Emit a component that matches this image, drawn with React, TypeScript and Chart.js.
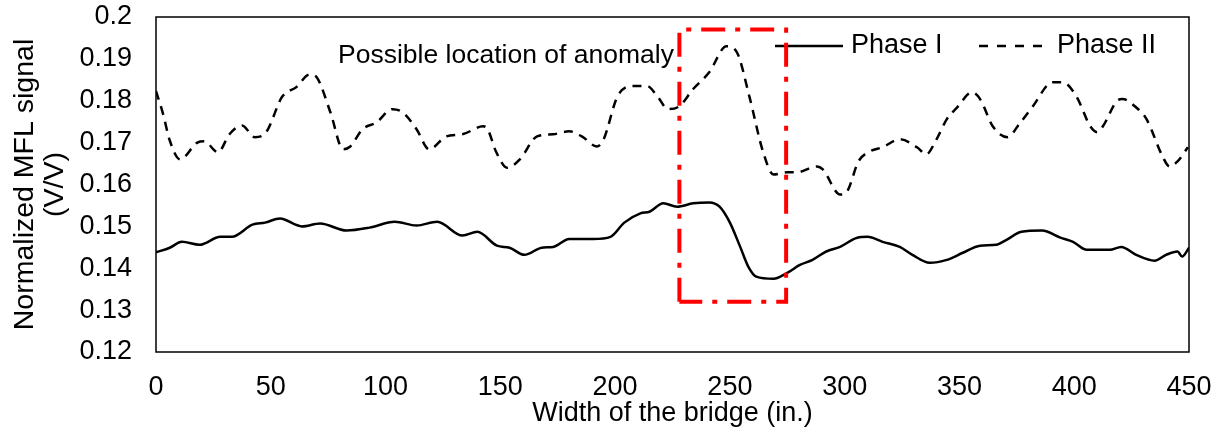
import React, { useEffect, useRef } from "react";
import { Chart, registerables } from "chart.js";

Chart.register(...registerables);

// ---- Data ----
const phase1X = [0, 6, 11.3, 19, 28, 33, 42, 47.5, 54, 63.5, 71.5, 83, 93, 104, 113.5, 122.5, 133.5, 140, 148.5, 154, 160.5, 168, 173, 180, 190.5, 198, 204, 211, 215, 221, 227, 234, 241, 245.5, 250, 254.5, 258, 261.5, 269, 275, 280.5, 286, 292, 298, 305.5, 310, 316.5, 324, 329.5, 337, 344.5, 351.5, 359, 366, 370.5, 377, 386, 394, 399.5, 405.5, 415.5, 420.5, 427, 435, 440, 445, 447, 450];
const phase1Y = [0.1438, 0.1449, 0.1463, 0.1456, 0.1475, 0.1475, 0.1504, 0.1509, 0.1519, 0.15, 0.1507, 0.149, 0.1497, 0.1511, 0.1502, 0.1511, 0.1478, 0.1487, 0.1454, 0.1449, 0.1432, 0.1449, 0.1451, 0.147, 0.147, 0.1475, 0.1509, 0.1531, 0.1535, 0.1555, 0.1547, 0.1555, 0.1557, 0.1547, 0.1509, 0.1451, 0.1404, 0.138, 0.1375, 0.1389, 0.1408, 0.142, 0.144, 0.1451, 0.1473, 0.1475, 0.1463, 0.1451, 0.1432, 0.1413, 0.142, 0.1437, 0.1454, 0.1456, 0.1468, 0.1487, 0.149, 0.1473, 0.1463, 0.1444, 0.1444, 0.1451, 0.1432, 0.1418, 0.1432, 0.144, 0.1428, 0.1449];

const phase2X = [0, 3, 6, 10.5, 18, 21, 27, 32, 37.5, 43, 48, 55, 61, 67, 70, 76, 81.5, 84.5, 90, 96, 103, 107.5, 113.5, 119, 126.5, 133.5, 142.5, 144.5, 148, 153, 158.5, 166, 173, 180, 185.5, 192, 195, 201, 207.5, 214, 218.5, 223, 228, 234, 241, 248.5, 253, 258.5, 264.5, 269, 275, 279, 288, 290.5, 298, 301, 306, 311, 316.5, 324, 331.5, 335.5, 340, 344.5, 349, 355.5, 359, 364.5, 371, 376, 382, 390.5, 395, 401, 407, 410, 412.5, 418.5, 421, 427, 431.5, 438.5, 441.5, 445, 449.5];
const phase2Y = [0.1823, 0.177, 0.1705, 0.166, 0.17, 0.1703, 0.1677, 0.172, 0.1741, 0.1713, 0.1725, 0.181, 0.1832, 0.1863, 0.1856, 0.1772, 0.1684, 0.169, 0.1732, 0.1748, 0.178, 0.1772, 0.1732, 0.1684, 0.1715, 0.172, 0.1739, 0.1732, 0.168, 0.164, 0.166, 0.1715, 0.172, 0.1727, 0.1715, 0.1691, 0.1708, 0.181, 0.1835, 0.1835, 0.181, 0.178, 0.1787, 0.1828, 0.1868, 0.193, 0.1916, 0.181, 0.1677, 0.1624, 0.1629, 0.1629, 0.1643, 0.1636, 0.1576, 0.1583, 0.1655, 0.1679, 0.1689, 0.1708, 0.1689, 0.1672, 0.1708, 0.1756, 0.1784, 0.182, 0.1804, 0.1739, 0.1713, 0.1744, 0.1787, 0.1844, 0.1844, 0.181, 0.1739, 0.1725, 0.1739, 0.1799, 0.1804, 0.1784, 0.1756, 0.1667, 0.1643, 0.1655, 0.1689];

const boxX = [228, 228, 274.5, 274.5, 228];
const boxY = [0.132, 0.197, 0.197, 0.132, 0.132];

const xTicks = [0, 50, 100, 150, 200, 250, 300, 350, 400, 450];
const yTicks = [0.12, 0.13, 0.14, 0.15, 0.16, 0.17, 0.18, 0.19, 0.2];

const seriesNames = ["Phase I", "Phase II"];
const annotationText = "Possible location of anomaly";
const annotationX = 79.3;
const annotationY = 0.1907;
const xTitle = "Width of the bridge (in.)";
const yTitle = ["Normalized MFL signal", "(V/V)"];

const FONT = '"Liberation Sans", Arial, sans-serif';

const toPoints = (xs: number[], ys: number[]) => xs.map((x, i) => ({ x, y: ys[i] }));

const overlayPlugin = {
  id: "overlay",
  beforeDatasetsDraw(chart: any) {
    const { ctx, chartArea, scales } = chart;
    ctx.save();
    ctx.fillStyle = "#000";
    ctx.textBaseline = "middle";
    ctx.textAlign = "left";
    ctx.font = `26.5px ${FONT}`;
    ctx.fillText(
      annotationText,
      scales.x.getPixelForValue(annotationX),
      scales.y.getPixelForValue(annotationY)
    );
    // legend
    const r = chartArea.right;
    const ly = chartArea.top + 29;
    ctx.font = `27px ${FONT}`;
    ctx.strokeStyle = "#000";
    ctx.lineWidth = 2.5;
    ctx.lineCap = "butt";
    ctx.beginPath();
    ctx.moveTo(r - 414, ly);
    ctx.lineTo(r - 346, ly);
    ctx.stroke();
    ctx.fillText(seriesNames[0], r - 338, ly);
    ctx.setLineDash([9, 9]);
    ctx.beginPath();
    ctx.moveTo(r - 210, ly);
    ctx.lineTo(r - 145, ly);
    ctx.stroke();
    ctx.setLineDash([]);
    ctx.fillText(seriesNames[1], r - 132, ly);
    ctx.restore();
  },
  afterDraw(chart: any) {
    const { ctx, chartArea } = chart;
    ctx.save();
    ctx.strokeStyle = "#000";
    ctx.lineWidth = 1.5;
    ctx.strokeRect(
      chartArea.left,
      chartArea.top,
      chartArea.right - chartArea.left,
      chartArea.bottom - chartArea.top
    );
    ctx.restore();
  },
};

const hiddenGrid = (len: number) => ({
  display: true,
  drawOnChartArea: false,
  drawTicks: true,
  tickLength: len,
  color: "rgba(0,0,0,0)",
  tickColor: "rgba(0,0,0,0)",
});

export default function App() {
  const ref = useRef<HTMLCanvasElement | null>(null);

  useEffect(() => {
    document.body.style.margin = "0";
    if (!ref.current) return;
    const chart = new Chart(ref.current, {
      type: "line",
      data: {
        datasets: [
          {
            label: "box",
            data: toPoints(boxX, boxY),
            borderColor: "#FF0000",
            borderWidth: 4,
            borderDash: [24, 10, 5, 10],
            pointRadius: 0,
            tension: 0,
            fill: false,
            order: 0,
          },
          {
            label: seriesNames[0],
            data: toPoints(phase1X, phase1Y),
            borderColor: "#000",
            borderWidth: 2.5,
            pointRadius: 0,
            cubicInterpolationMode: "monotone",
            fill: false,
            order: 1,
          },
          {
            label: seriesNames[1],
            data: toPoints(phase2X, phase2Y),
            borderColor: "#000",
            borderWidth: 2.5,
            borderDash: [9, 7],
            pointRadius: 0,
            cubicInterpolationMode: "monotone",
            fill: false,
            order: 2,
          },
        ],
      },
      options: {
        animation: false,
        responsive: true,
        maintainAspectRatio: false,
        layout: { padding: { top: 17, right: 34, left: 0, bottom: 0 } },
        plugins: {
          legend: { display: false },
          tooltip: { enabled: false },
        },
        scales: {
          x: {
            type: "linear",
            min: 0,
            max: 450,
            grid: hiddenGrid(19),
            border: { display: false },
            afterBuildTicks: (s: any) => {
              s.ticks = xTicks.map((v) => ({ value: v }));
            },
            afterFit: (s: any) => {
              s.height = 88;
            },
            ticks: {
              color: "#000",
              padding: 0,
              maxRotation: 0,
              autoSkip: false,
              font: { family: FONT, size: 27 },
              callback: (v: any) => String(v),
            },
            title: {
              display: true,
              text: xTitle,
              color: "#000",
              font: { family: FONT, size: 27 },
              padding: { top: 0, bottom: 10 },
            },
          },
          y: {
            type: "linear",
            min: 0.12,
            max: 0.2,
            grid: hiddenGrid(24),
            border: { display: false },
            afterBuildTicks: (s: any) => {
              s.ticks = yTicks.map((v) => ({ value: v }));
            },
            afterFit: (s: any) => {
              s.width = 156;
            },
            ticks: {
              color: "#000",
              padding: 0,
              autoSkip: false,
              font: { family: FONT, size: 27 },
              callback: (v: any) => String(Math.round(Number(v) * 100) / 100),
            },
            title: {
              display: true,
              text: yTitle,
              color: "#000",
              font: { family: FONT, size: 28.5, lineHeight: 1.06 },
              padding: { top: 10, bottom: 0 },
            },
          },
        },
      },
      plugins: [overlayPlugin],
    });
    return () => chart.destroy();
  }, []);

  return (
    <div style={{ position: "absolute", left: 0, top: 0, width: 1223, height: 440 }}>
      <canvas ref={ref} />
    </div>
  );
}
